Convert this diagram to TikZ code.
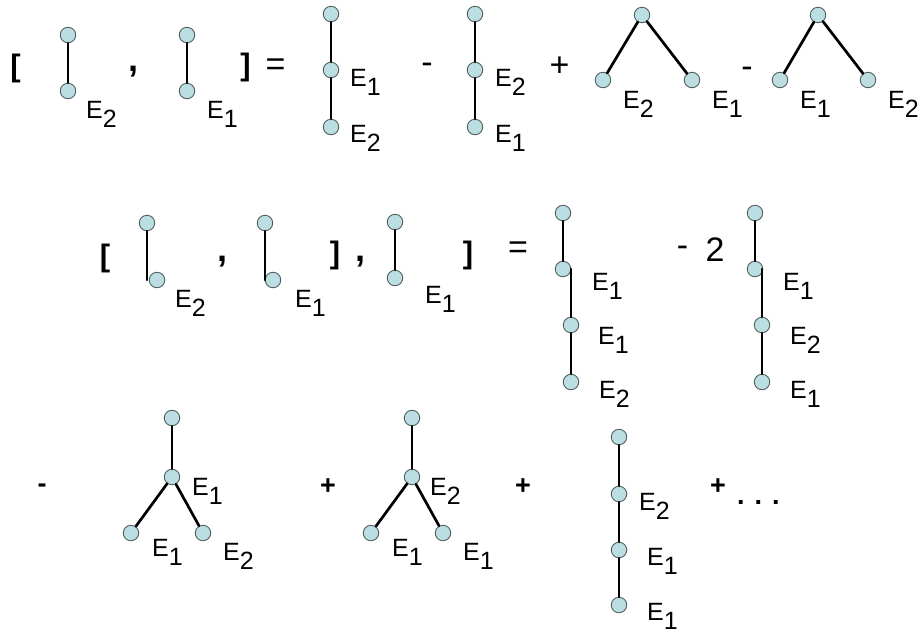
\documentclass[tikz,border=0pt]{standalone}
\usepackage{fontspec}
\setmainfont{Liberation Sans}
\usetikzlibrary{calc}
\definecolor{vfill}{RGB}{186,222,226}
\definecolor{vline}{RGB}{85,95,95}
\newcommand{\Elab}[1]{E\raisebox{-9pt}{#1}}
\tikzset{
  vtx/.style={circle,draw=vline,fill=vfill,line width=0.9pt,minimum size=15.5pt,inner sep=0pt},
  edg/.style={line width=2.7pt,line cap=round},
  lab/.style={anchor=base west,inner sep=0pt,font=\fontsize{25}{30}\selectfont},
  op/.style={inner sep=0pt,font=\fontsize{34}{40}\selectfont},
  brk/.style={inner sep=0pt,font=\fontsize{31}{36}\selectfont\bfseries},
  cma/.style={inner sep=0pt,font=\fontsize{36}{40}\selectfont\bfseries},
  bop/.style={inner sep=0pt,font=\fontsize{27}{32}\selectfont\bfseries},
}

\begin{document}
\begin{tikzpicture}[x=1pt,y=1pt]
  \useasboundingbox (0,0) rectangle (921,-633);

  % row 1: bracket of two single edges
  \node[brk] (o1) at (15.5,-68.5) {[};
  \node[vtx] (a1) at (68,-35) {};
  \node[vtx] (a2) at (68,-91) {};
  \node[lab] (la2) at (86,-118) {\Elab{2}};
  \node[cma] (o2) at (133.5,-72) {,};
  \node[vtx] (b1) at (187,-35) {};
  \node[vtx] (b2) at (187,-91) {};
  \node[lab] (lb2) at (207,-118) {\Elab{1}};
  \node[brk] (o3) at (245.5,-67.5) {]};
  \node[op] (o4) at (275.5,-67.5) {=};

  % row 1: chains and cherries
  \node[vtx] (c1) at (331,-14) {};
  \node[vtx] (c2) at (331,-70) {};
  \node[vtx] (c3) at (331,-127) {};
  \node[lab] (lc2) at (350,-86) {\Elab{1}};
  \node[lab] (lc3) at (350,-142) {\Elab{2}};
  \node[op] (o5) at (427,-68) {-};
  \node[vtx] (d1) at (475,-14) {};
  \node[vtx] (d2) at (475,-70) {};
  \node[vtx] (d3) at (475,-127) {};
  \node[lab] (ld2) at (495,-86) {\Elab{2}};
  \node[lab] (ld3) at (495,-142) {\Elab{1}};
  \node[op] (o6) at (559.5,-67) {+};
  \node[vtx] (e1) at (642,-15) {};
  \node[vtx] (e2) at (603,-80) {};
  \node[vtx] (e3) at (692,-80) {};
  \node[lab] (le2) at (623,-108) {\Elab{2}};
  \node[lab] (le3) at (712,-108) {\Elab{1}};
  \node[op] (o7) at (747,-72) {-};
  \node[vtx] (f1) at (818,-15) {};
  \node[vtx] (f2) at (780,-80) {};
  \node[vtx] (f3) at (868,-80) {};
  \node[lab] (lf2) at (800,-108) {\Elab{1}};
  \node[lab] (lf3) at (888,-108) {\Elab{2}};

  % row 2: nested bracket
  \node[brk] (o8) at (105,-258) {[};
  \node[vtx] (g1) at (147,-223) {};
  \node[vtx] (g2) at (157,-280) {};
  \node[lab] (lg2) at (175,-307) {\Elab{2}};
  \node[cma] (o9) at (222,-262) {,};
  \node[vtx] (h1) at (265,-223) {};
  \node[vtx] (h2) at (273,-280) {};
  \node[lab] (lh2) at (295,-307) {\Elab{1}};
  \node[brk] (o10) at (335,-255) {]};
  \node[cma] (o11) at (360,-262) {,};
  \node[vtx] (i1) at (395,-222) {};
  \node[vtx] (i2) at (395,-278) {};
  \node[lab] (li2) at (425,-303) {\Elab{1}};
  \node[brk] (o12) at (468,-255) {]};
  \node[op] (o13) at (518,-250) {=};
  \node[vtx] (j1) at (563,-213) {};
  \node[vtx] (j2) at (563,-269) {};
  \node[vtx] (j3) at (571,-325) {};
  \node[vtx] (j4) at (571,-382) {};
  \node[lab] (lj2) at (592,-290) {\Elab{1}};
  \node[lab] (lj3) at (598,-344) {\Elab{1}};
  \node[lab] (lj4) at (599,-398) {\Elab{2}};
  \node[op] (o14) at (682.5,-251.5) {-};
  \node[op] (o15) at (715,-249.5) {2};
  \node[vtx] (k1) at (755,-213) {};
  \node[vtx] (k2) at (755,-269) {};
  \node[vtx] (k3) at (762,-325) {};
  \node[vtx] (k4) at (762,-382) {};
  \node[lab] (lk2) at (783,-290) {\Elab{1}};
  \node[lab] (lk3) at (790,-344) {\Elab{2}};
  \node[lab] (lk4) at (790,-398) {\Elab{1}};

  % row 3: forks and the last chain
  \node[bop] (o16) at (42,-488) {-};
  \node[vtx] (l1) at (172,-418) {};
  \node[vtx] (l2) at (172,-477) {};
  \node[vtx] (l3) at (131,-533) {};
  \node[vtx] (l4) at (203,-533) {};
  \node[lab] (ll2) at (192,-495) {\Elab{1}};
  \node[lab] (ll3) at (152,-556) {\Elab{1}};
  \node[lab] (ll4) at (223,-560) {\Elab{2}};
  \node[bop] (o17) at (328,-487) {+};
  \node[vtx] (m1) at (412,-418) {};
  \node[vtx] (m2) at (412,-477) {};
  \node[vtx] (m3) at (371,-533) {};
  \node[vtx] (m4) at (443,-533) {};
  \node[lab] (lm2) at (430,-495) {\Elab{2}};
  \node[lab] (lm3) at (392,-556) {\Elab{1}};
  \node[lab] (lm4) at (463,-560) {\Elab{1}};
  \node[bop] (o18) at (523,-487) {+};
  \node[vtx] (n1) at (619,-437) {};
  \node[vtx] (n2) at (619,-494) {};
  \node[vtx] (n3) at (619,-550) {};
  \node[vtx] (n4) at (619,-605) {};
  \node[lab] (ln2) at (639,-510) {\Elab{2}};
  \node[lab] (ln3) at (647,-565) {\Elab{1}};
  \node[lab] (ln4) at (647,-620) {\Elab{1}};
  \node[bop] (o19) at (718,-487) {+};
  \node[bop,anchor=base west] (o20) at (737,-504) {.\hspace{10pt}.\hspace{10pt}.};

  % edges
  \foreach \t in {a,b,i}
    \draw[edg] (\t1) -- (\t2);
  \foreach \t in {c,d,n}{
    \draw[edg] (\t1) -- (\t2);
    \draw[edg] (\t2) -- (\t3);
  }
  \draw[edg] (n3) -- (n4);
  \foreach \t in {e,f}{
    \draw[edg] (\t1) -- (\t2);
    \draw[edg] (\t1) -- (\t3);
  }
  \foreach \t in {g,h}
    \draw[edg] (\t1) -- (\t1 |- \t2);
  \foreach \t in {j,k}{
    \draw[edg] (\t1) -- (\t2);
    \draw[edg] (\t3 |- \t2) -- (\t3);
    \draw[edg] (\t3) -- (\t4);
  }
  \foreach \t in {l,m}{
    \draw[edg] (\t1) -- (\t2);
    \draw[edg] (\t2) -- (\t3);
    \draw[edg] (\t2) -- (\t4);
  }
\end{tikzpicture}
\end{document}
